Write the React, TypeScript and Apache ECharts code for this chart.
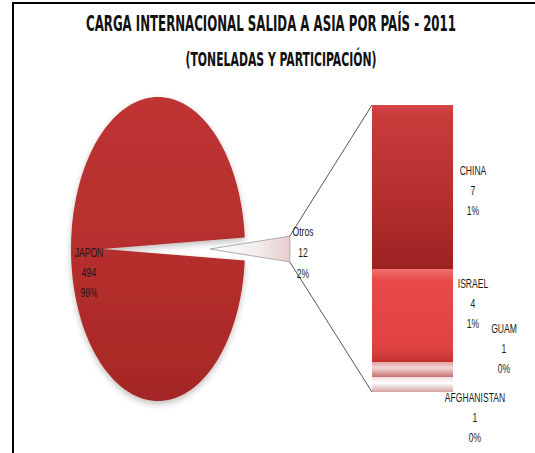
import React, { useEffect, useRef } from 'react';
import * as echarts from 'echarts';

const titleText = 'CARGA INTERNACIONAL SALIDA A ASIA POR PAÍS - 2011';
const subtitleText = '(TONELADAS Y PARTICIPACIÓN)';

const pieNames = ['JAPON', 'Otros'];
const japonValue = 494;

const otrosNames = ['CHINA', 'ISRAEL', 'GUAM', 'AFGHANISTAN'];
const otrosValues = [6.98, 3.96, 0.64, 0.64];

const FONT = '"Liberation Sans Narrow", "DejaVu Sans Condensed", "Liberation Sans", sans-serif';
const LABEL_FONT = '"Liberation Sans", Arial, sans-serif';

function measure(text: string, font: string): number {
  const c = document.createElement('canvas').getContext('2d');
  if (!c) return text.length * 8;
  c.font = font;
  return c.measureText(text).width;
}

export default function App() {
  const ref = useRef<HTMLDivElement>(null);
  useEffect(() => {
    const chart = echarts.init(ref.current!, null, { renderer: 'svg' });
    const otrosTotal = otrosValues.reduce((a, b) => a + b, 0);
    const pieValues = [japonValue, otrosTotal];
    const grand = pieValues.reduce((a, b) => a + b, 0);
    const pct = (v: number) => Math.round((v / grand) * 100) + '%';
    const starts: number[] = [];
    otrosValues.reduce((acc, v, i) => {
      starts[i] = acc;
      return acc + v;
    }, 0);

    // layout constants
    const pieCx = 158, pieCy = 249, pieRx = 87, pieRy = 152, japonVx = 103;
    const otrosVx = 210, otrosRx = 80, otrosRy = 170;
    const barLeft = 372, barTop = 105, barW = 81, barH = 287;
    const labelScale = 0.66;

    const titleFont = 'bold 22px ' + FONT;
    const subFont = 'bold 19px ' + FONT;
    const titleScale = 370 / measure(titleText, titleFont);
    const subScale = 191 / measure(subtitleText, subFont);

    const pieFill = new echarts.graphic.LinearGradient(0, 0, 0, 1, [
      { offset: 0, color: '#bf3432' },
      { offset: 0.6, color: '#b42e2c' },
      { offset: 1, color: '#a42725' },
    ]);
    const otrosFill = new echarts.graphic.LinearGradient(0, 0, 1, 0, [
      { offset: 0, color: '#ffffff' },
      { offset: 0.6, color: '#f2ecec' },
      { offset: 1, color: '#e8cccc' },
    ]);

    const barFills = [
      new echarts.graphic.LinearGradient(0, 0, 0, 1, [
        { offset: 0, color: '#d64646' },
        { offset: 0.06, color: '#c83b3b' },
        { offset: 0.6, color: '#b42e2e' },
        { offset: 1, color: '#9c2222' },
      ]),
      new echarts.graphic.LinearGradient(0, 0, 0, 1, [
        { offset: 0, color: '#f07070' },
        { offset: 0.12, color: '#e84a4a' },
        { offset: 0.85, color: '#e04242' },
        { offset: 1, color: '#c43232' },
      ]),
      new echarts.graphic.LinearGradient(0, 0, 0, 1, [
        { offset: 0, color: '#e2a2a2' },
        { offset: 0.4, color: '#f4d6d6' },
        { offset: 1, color: '#c47070' },
      ]),
      new echarts.graphic.LinearGradient(0, 0, 0, 1, [
        { offset: 0, color: '#f4dcdc' },
        { offset: 0.4, color: '#ffffff' },
        { offset: 1, color: '#d4a2a2' },
      ]),
    ];
    // label centre offsets from the segment's top-left corner
    const labelPos: [number, number][] = [
      [101, 85],
      [101, 34],
      [132, -14],
      [103, 40],
    ];

    const labelStyle = {
      fontFamily: LABEL_FONT,
      fontSize: 13,
      fill: '#1a1a1a',
      align: 'center',
      verticalAlign: 'middle',
      lineHeight: 20,
    };

    const renderPie = (params: any, api: any) => {
      const idx = params.dataIndex;
      const v = api.value(0) as number;
      const ang = (2 * Math.PI * v) / grand;
      const n = 160;
      if (idx === 0) {
        const a0 = Math.PI - ang / 2;
        const a1 = Math.PI + ang / 2;
        const pts: number[][] = [[japonVx, pieCy]];
        for (let i = 0; i <= n; i++) {
          const a = a0 + ((a1 - a0) * i) / n;
          pts.push([pieCx + pieRx * Math.cos(a), pieCy - pieRy * Math.sin(a)]);
        }
        return {
          type: 'group',
          children: [
            {
              type: 'polygon',
              shape: { points: pts },
              style: {
                fill: pieFill,
                shadowBlur: 6,
                shadowOffsetY: 3,
                shadowColor: 'rgba(0,0,0,0.25)',
              },
            },
            {
              type: 'text',
              x: 89,
              y: 272,
              scaleX: labelScale,
              style: {
                ...labelStyle,
                text: `${pieNames[0]}\n${Math.round(v)}\n${pct(v)}`,
              },
            },
          ],
        };
      }
      const half = ang / 2;
      const pts: number[][] = [[otrosVx, pieCy]];
      for (let i = 0; i <= 30; i++) {
        const a = -half + (2 * half * i) / 30;
        pts.push([otrosVx + otrosRx * Math.cos(a), pieCy - otrosRy * Math.sin(a)]);
      }
      const topEnd = [otrosVx + otrosRx * Math.cos(half), pieCy - otrosRy * Math.sin(half)];
      const botEnd = [otrosVx + otrosRx * Math.cos(half), pieCy + otrosRy * Math.sin(half)];
      return {
        type: 'group',
        children: [
          {
            type: 'polygon',
            shape: { points: pts },
            style: { fill: otrosFill, stroke: '#9a9a9a', lineWidth: 0.8 },
          },
          {
            type: 'line',
            shape: { x1: topEnd[0], y1: topEnd[1], x2: barLeft, y2: barTop },
            style: { stroke: '#555', lineWidth: 1 },
          },
          {
            type: 'line',
            shape: { x1: botEnd[0], y1: botEnd[1], x2: barLeft, y2: barTop + barH },
            style: { stroke: '#555', lineWidth: 1 },
          },
          {
            type: 'text',
            x: 303,
            y: 252,
            scaleX: labelScale,
            style: {
              ...labelStyle,
              lineHeight: 21,
              text: `${pieNames[1]}\n${Math.round(v)}\n${pct(v)}`,
            },
          },
        ],
      };
    };

    const renderBarLabel = (params: any, api: any) => {
      const i = api.value(3) as number;
      const start = api.value(1) as number;
      const v = api.value(2) as number;
      const p = api.coord([0, start]);
      const band = api.size([1, 0])[0];
      const left = p[0] - band / 2;
      return {
        type: 'text',
        x: left + labelPos[i][0],
        y: p[1] + labelPos[i][1],
        scaleX: labelScale,
        style: {
          ...labelStyle,
          text: `${otrosNames[i]}\n${Math.round(v)}\n${pct(v)}`,
        },
      };
    };

    chart.setOption({
      animation: false,
      backgroundColor: '#ffffff',
      grid: { left: barLeft, top: barTop, width: barW, height: barH },
      xAxis: { type: 'category', data: ['Otros'], show: false },
      yAxis: { type: 'value', min: 0, max: otrosTotal, inverse: true, show: false },
      graphic: [
        {
          type: 'line',
          shape: { x1: 13, y1: 2, x2: 13, y2: 453 },
          style: { stroke: '#000', lineWidth: 2 },
        },
        {
          type: 'line',
          shape: { x1: 12, y1: 3, x2: 535, y2: 3 },
          style: { stroke: '#000', lineWidth: 2 },
        },
        {
          type: 'text',
          x: 271,
          y: 23,
          scaleX: titleScale,
          style: {
            text: titleText,
            font: titleFont,
            fill: '#111',
            align: 'center',
            verticalAlign: 'middle',
          },
        },
        {
          type: 'text',
          x: 281,
          y: 59,
          scaleX: subScale,
          style: {
            text: subtitleText,
            font: subFont,
            fill: '#111',
            align: 'center',
            verticalAlign: 'middle',
          },
        },
      ],
      series: [
        {
          type: 'custom',
          coordinateSystem: 'none',
          renderItem: renderPie,
          data: pieValues.map((v, i) => ({ value: v, name: pieNames[i] })),
          silent: true,
        },
        ...otrosNames.map((name, i) => ({
          type: 'bar',
          name,
          stack: 'otros',
          barWidth: '100%',
          data: [otrosValues[i]],
          itemStyle: { color: barFills[i] },
        })),
        {
          type: 'custom',
          coordinateSystem: 'cartesian2d',
          renderItem: renderBarLabel,
          data: otrosValues.map((v, i) => [0, starts[i], v, i]),
          silent: true,
          z: 5,
        },
      ],
    });
    return () => chart.dispose();
  }, []);
  return (
    <div
      ref={ref}
      style={{ position: 'fixed', left: 0, top: 0, width: 535, height: 453, background: '#fff' }}
    />
  );
}
